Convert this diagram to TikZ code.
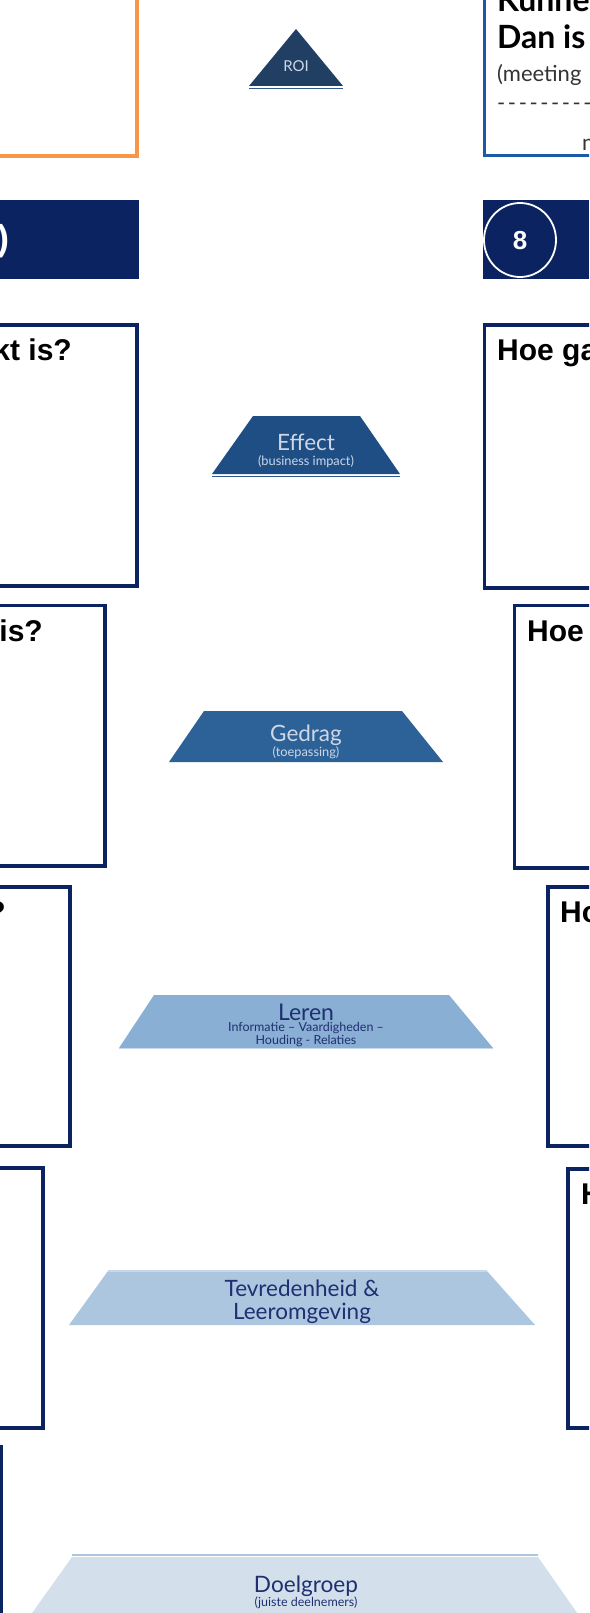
\documentclass[tikz,border=0pt]{standalone}
\usepackage{fontspec}
\setmainfont{Lato}
\newfontfamily\arialf{Liberation Sans}
\definecolor{orangeC}{HTML}{F79646}
\definecolor{blueC}{HTML}{1A5AA8}
\definecolor{navyC}{HTML}{0B2361}
\definecolor{roiC}{HTML}{203F63}
\definecolor{effC}{HTML}{1F4E85}
\definecolor{gedC}{HTML}{2C6297}
\definecolor{lerC}{HTML}{8AAFD5}
\definecolor{tevC}{HTML}{ADC6E0}
\definecolor{doeC}{HTML}{D3E0EC}
\definecolor{lightT}{HTML}{CDD7E6}
\definecolor{navyT}{HTML}{1F2F70}
\definecolor{edgeC}{HTML}{2E5A8E}
\definecolor{paleC}{HTML}{C6D7EA}
\definecolor{greyT}{HTML}{333333}
\newcommand\hy{-\kern2.6pt}
\tikzset{
  framebox/.style={draw=navyC, line width=3.4},
  qtext/.style={inner sep=0, font=\arialf\bfseries\fontsize{30}{32}\selectfont, text=black},
  ltxt/.style={inner sep=0, text=lightT},
  ntxt/.style={inner sep=0, text=navyT},
  big/.style={font=\fontsize{22.5}{24}\selectfont},
  small/.style={font=\fontsize{12.8}{14}\selectfont},
  toptxt/.style={anchor=base west, inner sep=0, font=\bfseries\fontsize{32}{34}\selectfont},
  subtxt/.style={anchor=base west, inner sep=0, text=greyT, font=\fontsize{22}{24}\selectfont},
}
\begin{document}
\begin{tikzpicture}[x=1pt,y=-1pt]
\useasboundingbox (0,0) rectangle (589,1613);
\clip (0,0) rectangle (589,1613);
\fill[white] (0,0) rectangle (589,1613);

% top row
\draw[orangeC, line width=3.5] (-10,-10) rectangle (137,156);
\draw[blueC, line width=3.5] (484.5,-10) rectangle (600,155.5);
\node[toptxt] (kun) at (497,12) {Kunne};
\node[toptxt] (dan) at (497,49) {Dan is};
\node[subtxt] (mee) at (497,82) {(meeting};
\node[subtxt] (dsh) at (497,111) {\hy\hy\hy\hy\hy\hy\hy\hy\hy\hy};
\node[subtxt] (nn) at (582,151) {n};

% ROI
\fill[roiC] (296,29) -- (343,86) -- (249,86) -- cycle;
\draw[edgeC, line width=1.6] (249,88.6) -- (343,88.6);
\node[ltxt, font=\fontsize{15}{17}\selectfont] (roi) at (296,66) {ROI};

% bands
\fill[navyC] (0,200) rectangle (139,279);
\fill[navyC] (483,200) rectangle (589,279);
\node[anchor=east, inner sep=0, text=white, font=\arialf\bfseries\fontsize{36}{38}\selectfont] (par) at (10,241) {)};
\draw[white, line width=1.8] (520,240) ellipse (36 and 37);
\node[inner sep=0, text=white, font=\arialf\bfseries\fontsize{26}{28}\selectfont] (eight) at (520,241) {8};

% row boxes
\draw[framebox] (-10,325) rectangle (137,586);
\draw[framebox] (484.5,325) rectangle (600,588);
\node[qtext, anchor=base east] (q1l) at (72,360) {kt is?};
\node[qtext, anchor=base west] (q1r) at (497,360) {Hoe ga};

\draw[framebox] (-10,605.5) rectangle (105,866);
\draw[framebox] (514.5,605.5) rectangle (600,868);
\node[qtext, anchor=base east] (q2l) at (43,641) {is?};
\node[qtext, anchor=base west] (q2r) at (527,641) {Hoe};

\draw[framebox] (-10,887) rectangle (70,1146);
\draw[framebox] (548,887) rectangle (600,1146);
\node[qtext, anchor=base east] (q3l) at (6,922) {?};
\node[qtext, anchor=base west] (q3r) at (560,922) {Ho};

\draw[framebox] (-10,1168) rectangle (43,1428);
\draw[framebox] (568,1169) rectangle (600,1428);
\node[qtext, anchor=base west] (q4r) at (581,1204) {H};

\draw[framebox] (-10,1447) rectangle (1.5,1700);

% Effect
\fill[effC] (253,416) -- (360,416) -- (400,474) -- (212,474) -- cycle;
\draw[edgeC, line width=1.6] (212,476.6) -- (400,476.6);
\node[ltxt, big] (eff) at (306,442) {Effect};
\node[ltxt, small] (effs) at (306,462) {(business impact)};

% Gedrag
\fill[gedC] (204,711) -- (402,711) -- (443,762) -- (169,762) -- cycle;
\node[ltxt, big] (ged) at (306,735) {Gedrag};
\node[ltxt, small] (geds) at (306,753) {(toepassing)};

% Leren
\fill[lerC] (154,995) -- (449,995) -- (493,1048) -- (119,1048) -- cycle;
\draw[paleC, line width=1.2] (119,1048.5) -- (493,1048.5);
\node[ntxt, font=\fontsize{23}{25}\selectfont] (ler) at (306,1012) {Leren};
\node[ntxt, align=center, font=\fontsize{12.5}{12.5}\selectfont] (lers) at (306,1034.5) {Informatie – Vaardigheden –\\Houding - Relaties};

% Tevredenheid
\fill[tevC] (108,1271) -- (487,1271) -- (535,1325) -- (69,1325) -- cycle;
\draw[paleC, line width=1.5] (108,1271) -- (487,1271);
\node[ntxt, align=center, font=\fontsize{22.5}{23.5}\selectfont] (tev) at (302,1302) {Tevredenheid \&\\Leeromgeving};

% Doelgroep
\fill[doeC] (72,1557) -- (538,1557) -- (589,1630) -- (27,1613) -- (20,1630) -- cycle;
\draw[tevC, line width=1.6] (72,1555) -- (538,1555);
\node[ntxt, font=\fontsize{22.6}{24}\selectfont] (doe) at (306,1586) {Doelgroep};
\node[ntxt, font=\fontsize{12.5}{13}\selectfont] (does) at (306,1603) {(juiste deelnemers)};
\end{tikzpicture}
\end{document}
